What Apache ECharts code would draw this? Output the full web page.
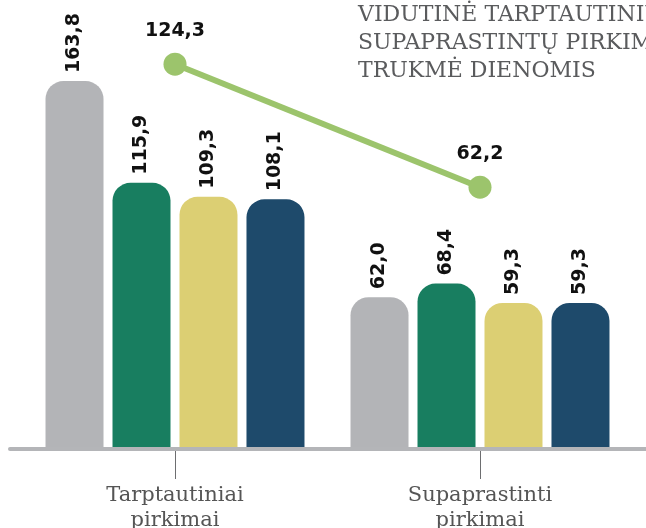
<!DOCTYPE html>
<html>
<head>
<meta charset="utf-8">
<script src="https://cdn.jsdelivr.net/npm/echarts@6/dist/echarts.min.js"></script>
<style>html,body{margin:0;padding:0;background:#fff;}#c{width:646px;height:528px;}</style>
</head>
<body>
<div id="c"></div>
<script>
const categories = ['Tarptautiniai\npirkimai', 'Supaprastinti\npirkimai'];
const seriesA = [163.8, 62.0];
const seriesB = [115.9, 68.4];
const seriesC = [109.3, 59.3];
const seriesD = [108.1, 59.3];
const lineValues = [124.3, 62.2];
const titleText = 'VIDUTINĖ TARPTAUTINIŲ IR\nSUPAPRASTINTŲ PIRKIMŲ\nTRUKMĖ DIENOMIS';

const barColors = ['#b3b4b7', '#187e60', '#dccf73', '#1e4a6b'];
const fmt = p => p.value.toFixed(1).replace('.', ',');

function barSeries(name, data, color) {
  return {
    name: name, type: 'bar', data: data, yAxisIndex: 0,
    barWidth: 58, barGap: '15.5%',
    itemStyle: { color: color, borderRadius: [18, 18, 0, 0] },
    label: {
      show: true, position: 'top', rotate: 90, align: 'left', verticalAlign: 'middle',
      distance: 8, formatter: fmt,
      fontFamily: 'DejaVu Sans', fontWeight: 'bold', fontSize: 19, color: '#111'
    }
  };
}

const chart = echarts.init(document.getElementById('c'), null, { renderer: 'canvas' });
chart.setOption({
  animation: false,
  title: {
    text: titleText, left: 358, top: 1, padding: 0,
    textStyle: { fontFamily: 'DejaVu Serif', fontWeight: 'normal', fontSize: 22, lineHeight: 28, color: '#5a5b5d' }
  },
  grid: { left: 22.5, right: 13.5, top: 0, bottom: 79, containLabel: false, outerBoundsMode: 'none' },
  xAxis: {
    type: 'category', data: categories,
    axisLine: { show: false, onZero: false },
    axisTick: { show: true, alignWithLabel: true, length: 30, lineStyle: { color: '#6d6e70', width: 1 } },
    axisLabel: { margin: 34, fontFamily: 'DejaVu Serif', fontSize: 21, lineHeight: 25, color: '#555' }
  },
  yAxis: [
    { type: 'value', min: -9.5, max: 202, startValue: -9.5, show: false, splitLine: { show: false } },
    { type: 'value', min: -70, max: 156.7, show: false, splitLine: { show: false } }
  ],
  series: [
    barSeries('A', seriesA, barColors[0]),
    barSeries('B', seriesB, barColors[1]),
    barSeries('C', seriesC, barColors[2]),
    barSeries('D', seriesD, barColors[3]),
    {
      name: 'Vidurkis', type: 'line', data: lineValues, yAxisIndex: 1, z: 5,
      symbol: 'circle', symbolSize: 23,
      itemStyle: { color: '#9cc46c' },
      lineStyle: { color: '#9cc46c', width: 6 },
      label: {
        show: true, position: 'top', distance: 12, formatter: fmt,
        fontFamily: 'DejaVu Sans', fontWeight: 'bold', fontSize: 19, color: '#111'
      }
    }
  ],
  graphic: [{
    type: 'line', z: 100,
    shape: { x1: 10, y1: 449, x2: 646, y2: 449 },
    style: { stroke: '#b4b5b8', lineWidth: 4, lineCap: 'round' }
  }]
});
</script>
</body>
</html>
